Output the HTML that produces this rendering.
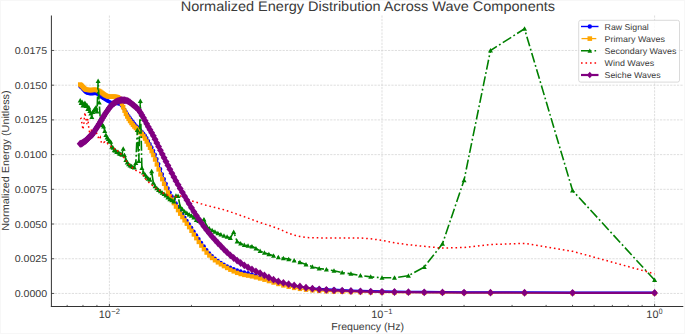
<!DOCTYPE html>
<html><head><meta charset="utf-8"><style>html,body{margin:0;padding:0;background:#fff;}svg{display:block;text-rendering:geometricPrecision;}</style></head>
<body><svg width="685" height="334" viewBox="0 0 685 334"><rect width="685" height="334" fill="#fff"/><rect x="0.5" y="0.5" width="684" height="333" fill="none" stroke="#f7f7f7" stroke-width="1"/><g stroke="#d0d0d0" stroke-width="0.7" stroke-dasharray="2.2,1.2"><line x1="51.4" x2="683.3" y1="293.45" y2="293.45"/><line x1="51.4" x2="683.3" y1="258.74" y2="258.74"/><line x1="51.4" x2="683.3" y1="224.03" y2="224.03"/><line x1="51.4" x2="683.3" y1="189.32" y2="189.32"/><line x1="51.4" x2="683.3" y1="154.61" y2="154.61"/><line x1="51.4" x2="683.3" y1="119.90" y2="119.90"/><line x1="51.4" x2="683.3" y1="85.19" y2="85.19"/><line x1="51.4" x2="683.3" y1="50.48" y2="50.48"/><line x1="109.40" x2="109.40" y1="15.5" y2="306.5"/><line x1="382.00" x2="382.00" y1="15.5" y2="306.5"/><line x1="654.60" x2="654.60" y1="15.5" y2="306.5"/></g><defs><clipPath id="ax"><rect x="51.4" y="15.5" width="631.9" height="291.0"/></clipPath></defs><g clip-path="url(#ax)"><path d="M80.17,86.59 L81.10,87.14 L82.04,87.94 L82.98,89.13 L83.93,90.26 L84.89,91.29 L85.86,92.20 L86.83,92.78 L87.82,93.08 L88.81,93.33 L89.80,93.51 L90.81,93.60 L91.83,93.58 L92.85,93.49 L93.89,93.38 L94.93,93.31 L95.98,93.37 L97.04,93.70 L98.12,94.15 L99.20,94.98 L100.29,96.02 L101.39,96.94 L102.50,97.69 L103.62,98.41 L104.76,99.10 L105.90,99.81 L107.06,100.52 L108.22,101.18 L109.40,101.86 L110.59,102.42 L111.79,102.71 L113.01,102.87 L114.23,102.98 L115.47,103.09 L116.73,103.25 L117.99,103.50 L119.27,103.84 L120.57,104.39 L121.87,105.77 L123.20,107.66 L124.53,109.58 L125.89,111.72 L127.26,113.89 L128.64,115.91 L130.04,117.88 L131.46,119.83 L132.89,121.73 L134.35,123.59 L135.82,125.38 L137.31,127.02 L138.82,128.55 L140.34,130.06 L141.89,131.65 L143.46,133.42 L145.05,135.48 L146.66,137.99 L148.29,140.86 L149.95,143.95 L151.63,147.16 L153.33,150.61 L155.06,154.43 L156.81,158.89 L158.59,163.87 L160.40,168.92 L162.24,174.03 L164.10,178.89 L165.99,183.57 L167.92,188.04 L169.88,192.33 L171.87,196.26 L173.89,199.82 L175.95,203.24 L178.04,206.77 L180.18,210.39 L182.35,213.96 L184.56,217.40 L186.82,220.74 L189.12,224.12 L191.46,227.70 L193.85,231.41 L196.29,235.14 L198.79,238.91 L201.33,242.67 L203.93,246.27 L206.59,249.89 L209.32,253.26 L212.10,256.01 L214.96,258.43 L217.88,260.64 L220.88,262.65 L223.95,264.45 L227.11,266.05 L230.35,267.51 L233.69,268.86 L237.12,270.08 L240.65,271.19 L244.30,272.10 L248.05,272.98 L251.94,274.10 L255.95,275.49 L260.10,277.04 L264.41,278.79 L268.88,280.60 L273.52,282.16 L278.35,283.58 L283.39,284.80 L288.66,285.87 L294.16,286.79 L299.94,287.50 L306.01,287.87 L312.41,288.15 L319.18,288.46 L326.36,288.82 L334.00,289.20 L342.17,289.64 L350.94,290.03 L360.42,290.34 L370.72,290.63 L382.00,290.90 L394.47,291.13 L408.42,291.29 L424.23,291.45 L442.48,291.61 L464.06,291.76 L490.48,291.87 L524.54,291.95 L572.54,292.04 L654.60,292.10" fill="none" stroke="#0000ff" stroke-width="1.2"/><g fill="#0000ff"><circle cx="654.60" cy="292.10" r="1.90"/><circle cx="572.54" cy="292.04" r="1.90"/><circle cx="524.54" cy="291.95" r="1.90"/><circle cx="490.48" cy="291.87" r="1.90"/><circle cx="464.06" cy="291.76" r="1.90"/><circle cx="442.48" cy="291.61" r="1.90"/><circle cx="424.23" cy="291.45" r="1.90"/><circle cx="408.42" cy="291.29" r="1.90"/><circle cx="394.47" cy="291.13" r="1.90"/><circle cx="382.00" cy="290.90" r="1.90"/><circle cx="370.72" cy="290.63" r="1.90"/><circle cx="360.42" cy="290.34" r="1.90"/><circle cx="350.94" cy="290.03" r="1.90"/><circle cx="342.17" cy="289.64" r="1.90"/><circle cx="334.00" cy="289.20" r="1.90"/><circle cx="326.36" cy="288.82" r="1.90"/><circle cx="319.18" cy="288.46" r="1.90"/><circle cx="312.41" cy="288.15" r="1.90"/><circle cx="306.01" cy="287.87" r="1.90"/><circle cx="299.94" cy="287.50" r="1.90"/><circle cx="294.16" cy="286.79" r="1.90"/><circle cx="288.66" cy="285.87" r="1.90"/><circle cx="283.39" cy="284.80" r="1.90"/><circle cx="278.35" cy="283.58" r="1.90"/><circle cx="273.52" cy="282.16" r="1.90"/><circle cx="268.88" cy="280.60" r="1.90"/><circle cx="264.41" cy="278.79" r="1.90"/><circle cx="260.10" cy="277.04" r="1.90"/><circle cx="255.95" cy="275.49" r="1.90"/><circle cx="251.94" cy="274.10" r="1.90"/><circle cx="248.05" cy="272.98" r="1.90"/><circle cx="244.30" cy="272.10" r="1.90"/><circle cx="240.65" cy="271.19" r="1.90"/><circle cx="237.12" cy="270.08" r="1.90"/><circle cx="233.69" cy="268.86" r="1.90"/><circle cx="230.35" cy="267.51" r="1.90"/><circle cx="227.11" cy="266.05" r="1.90"/><circle cx="223.95" cy="264.45" r="1.90"/><circle cx="220.88" cy="262.65" r="1.90"/><circle cx="217.88" cy="260.64" r="1.90"/><circle cx="214.96" cy="258.43" r="1.90"/><circle cx="212.10" cy="256.01" r="1.90"/><circle cx="209.32" cy="253.26" r="1.90"/><circle cx="206.59" cy="249.89" r="1.90"/><circle cx="203.93" cy="246.27" r="1.90"/><circle cx="201.33" cy="242.67" r="1.90"/><circle cx="198.79" cy="238.91" r="1.90"/><circle cx="196.29" cy="235.14" r="1.90"/><circle cx="193.85" cy="231.41" r="1.90"/><circle cx="191.46" cy="227.70" r="1.90"/><circle cx="189.12" cy="224.12" r="1.90"/><circle cx="186.82" cy="220.74" r="1.90"/><circle cx="184.56" cy="217.40" r="1.90"/><circle cx="182.35" cy="213.96" r="1.90"/><circle cx="180.18" cy="210.39" r="1.90"/><circle cx="178.04" cy="206.77" r="1.90"/><circle cx="175.95" cy="203.24" r="1.90"/><circle cx="173.89" cy="199.82" r="1.90"/><circle cx="171.87" cy="196.26" r="1.90"/><circle cx="169.88" cy="192.33" r="1.90"/><circle cx="167.92" cy="188.04" r="1.90"/><circle cx="165.99" cy="183.57" r="1.90"/><circle cx="164.10" cy="178.89" r="1.90"/><circle cx="162.24" cy="174.03" r="1.90"/><circle cx="160.40" cy="168.92" r="1.90"/><circle cx="158.59" cy="163.87" r="1.90"/><circle cx="156.81" cy="158.89" r="1.90"/><circle cx="155.06" cy="154.43" r="1.90"/><circle cx="153.33" cy="150.61" r="1.90"/><circle cx="151.63" cy="147.16" r="1.90"/><circle cx="149.95" cy="143.95" r="1.90"/><circle cx="148.29" cy="140.86" r="1.90"/><circle cx="146.66" cy="137.99" r="1.90"/><circle cx="145.05" cy="135.48" r="1.90"/><circle cx="143.46" cy="133.42" r="1.90"/><circle cx="141.89" cy="131.65" r="1.90"/><circle cx="140.34" cy="130.06" r="1.90"/><circle cx="138.82" cy="128.55" r="1.90"/><circle cx="137.31" cy="127.02" r="1.90"/><circle cx="135.82" cy="125.38" r="1.90"/><circle cx="134.35" cy="123.59" r="1.90"/><circle cx="132.89" cy="121.73" r="1.90"/><circle cx="131.46" cy="119.83" r="1.90"/><circle cx="130.04" cy="117.88" r="1.90"/><circle cx="128.64" cy="115.91" r="1.90"/><circle cx="127.26" cy="113.89" r="1.90"/><circle cx="125.89" cy="111.72" r="1.90"/><circle cx="124.53" cy="109.58" r="1.90"/><circle cx="123.20" cy="107.66" r="1.90"/><circle cx="121.87" cy="105.77" r="1.90"/><circle cx="120.57" cy="104.39" r="1.90"/><circle cx="119.27" cy="103.84" r="1.90"/><circle cx="117.99" cy="103.50" r="1.90"/><circle cx="116.73" cy="103.25" r="1.90"/><circle cx="115.47" cy="103.09" r="1.90"/><circle cx="114.23" cy="102.98" r="1.90"/><circle cx="113.01" cy="102.87" r="1.90"/><circle cx="111.79" cy="102.71" r="1.90"/><circle cx="110.59" cy="102.42" r="1.90"/><circle cx="109.40" cy="101.86" r="1.90"/><circle cx="108.22" cy="101.18" r="1.90"/><circle cx="107.06" cy="100.52" r="1.90"/><circle cx="105.90" cy="99.81" r="1.90"/><circle cx="104.76" cy="99.10" r="1.90"/><circle cx="103.62" cy="98.41" r="1.90"/><circle cx="102.50" cy="97.69" r="1.90"/><circle cx="101.39" cy="96.94" r="1.90"/><circle cx="100.29" cy="96.02" r="1.90"/><circle cx="99.20" cy="94.98" r="1.90"/><circle cx="98.12" cy="94.15" r="1.90"/><circle cx="97.04" cy="93.70" r="1.90"/><circle cx="95.98" cy="93.37" r="1.90"/><circle cx="94.93" cy="93.31" r="1.90"/><circle cx="93.89" cy="93.38" r="1.90"/><circle cx="92.85" cy="93.49" r="1.90"/><circle cx="91.83" cy="93.58" r="1.90"/><circle cx="90.81" cy="93.60" r="1.90"/><circle cx="89.80" cy="93.51" r="1.90"/><circle cx="88.81" cy="93.33" r="1.90"/><circle cx="87.82" cy="93.08" r="1.90"/><circle cx="86.83" cy="92.78" r="1.90"/><circle cx="85.86" cy="92.20" r="1.90"/><circle cx="84.89" cy="91.29" r="1.90"/><circle cx="83.93" cy="90.26" r="1.90"/><circle cx="82.98" cy="89.13" r="1.90"/><circle cx="82.04" cy="87.94" r="1.90"/><circle cx="81.10" cy="87.14" r="1.90"/><circle cx="80.17" cy="86.59" r="1.90"/></g><path d="M80.17,84.48 L81.10,85.17 L82.04,86.03 L82.98,87.08 L83.93,88.01 L84.89,88.89 L85.86,89.53 L86.83,89.75 L87.82,89.91 L88.81,90.03 L89.80,90.09 L90.81,90.09 L91.83,90.03 L92.85,89.95 L93.89,89.86 L94.93,89.80 L95.98,89.86 L97.04,90.14 L98.12,90.56 L99.20,91.03 L100.29,91.70 L101.39,92.48 L102.50,93.26 L103.62,94.13 L104.76,94.95 L105.90,95.53 L107.06,96.06 L108.22,96.49 L109.40,96.69 L110.59,96.69 L111.79,96.65 L113.01,96.61 L114.23,96.61 L115.47,96.72 L116.73,96.95 L117.99,97.30 L119.27,98.54 L120.57,100.79 L121.87,103.98 L123.20,107.20 L124.53,110.69 L125.89,113.95 L127.26,116.57 L128.64,118.91 L130.04,121.05 L131.46,123.02 L132.89,124.87 L134.35,126.55 L135.82,128.04 L137.31,129.42 L138.82,130.79 L140.34,132.27 L141.89,133.98 L143.46,136.06 L145.05,138.61 L146.66,141.52 L148.29,144.60 L149.95,147.79 L151.63,151.24 L153.33,155.07 L155.06,159.57 L156.81,164.48 L158.59,169.46 L160.40,174.47 L162.24,179.23 L164.10,183.82 L165.99,188.21 L167.92,192.42 L169.88,196.28 L171.87,199.78 L173.89,203.14 L175.95,206.61 L178.04,210.16 L180.18,213.69 L182.35,217.08 L184.56,220.36 L186.82,223.68 L189.12,227.16 L191.46,230.79 L193.85,234.47 L196.29,238.20 L198.79,241.97 L201.33,245.60 L203.93,249.18 L206.59,252.60 L209.32,255.49 L212.10,257.99 L214.96,260.28 L217.88,262.38 L220.88,264.32 L223.95,266.15 L227.11,267.97 L230.35,269.73 L233.69,271.37 L237.12,272.84 L240.65,274.04 L244.30,274.93 L248.05,275.62 L251.94,276.39 L255.95,277.37 L260.10,278.50 L264.41,279.72 L268.88,281.09 L273.52,282.55 L278.35,283.99 L283.39,285.44 L288.66,286.75 L294.16,287.91 L299.94,288.89 L306.01,289.67 L312.41,290.35 L319.18,290.88 L326.36,291.29 L334.00,291.60 L342.17,291.84 L350.94,292.02 L360.42,292.17 L370.72,292.31 L382.00,292.45 L394.47,292.56 L408.42,292.65 L424.23,292.74 L442.48,292.82 L464.06,292.90 L490.48,292.98 L524.54,293.05 L572.54,293.13 L654.60,293.20" fill="none" stroke="#ffa500" stroke-width="1.2"/><g fill="#ffa500"><rect x="652.40" y="291.00" width="4.40" height="4.40"/><rect x="570.34" y="290.93" width="4.40" height="4.40"/><rect x="522.34" y="290.85" width="4.40" height="4.40"/><rect x="488.28" y="290.78" width="4.40" height="4.40"/><rect x="461.86" y="290.70" width="4.40" height="4.40"/><rect x="440.28" y="290.62" width="4.40" height="4.40"/><rect x="422.03" y="290.54" width="4.40" height="4.40"/><rect x="406.22" y="290.45" width="4.40" height="4.40"/><rect x="392.27" y="290.36" width="4.40" height="4.40"/><rect x="379.80" y="290.25" width="4.40" height="4.40"/><rect x="368.52" y="290.11" width="4.40" height="4.40"/><rect x="358.22" y="289.97" width="4.40" height="4.40"/><rect x="348.74" y="289.82" width="4.40" height="4.40"/><rect x="339.97" y="289.64" width="4.40" height="4.40"/><rect x="331.80" y="289.40" width="4.40" height="4.40"/><rect x="324.16" y="289.09" width="4.40" height="4.40"/><rect x="316.98" y="288.68" width="4.40" height="4.40"/><rect x="310.21" y="288.15" width="4.40" height="4.40"/><rect x="303.81" y="287.47" width="4.40" height="4.40"/><rect x="297.74" y="286.69" width="4.40" height="4.40"/><rect x="291.96" y="285.71" width="4.40" height="4.40"/><rect x="286.46" y="284.55" width="4.40" height="4.40"/><rect x="281.19" y="283.24" width="4.40" height="4.40"/><rect x="276.15" y="281.79" width="4.40" height="4.40"/><rect x="271.32" y="280.35" width="4.40" height="4.40"/><rect x="266.68" y="278.89" width="4.40" height="4.40"/><rect x="262.21" y="277.52" width="4.40" height="4.40"/><rect x="257.90" y="276.30" width="4.40" height="4.40"/><rect x="253.75" y="275.17" width="4.40" height="4.40"/><rect x="249.74" y="274.19" width="4.40" height="4.40"/><rect x="245.85" y="273.42" width="4.40" height="4.40"/><rect x="242.10" y="272.73" width="4.40" height="4.40"/><rect x="238.45" y="271.84" width="4.40" height="4.40"/><rect x="234.92" y="270.64" width="4.40" height="4.40"/><rect x="231.49" y="269.17" width="4.40" height="4.40"/><rect x="228.15" y="267.53" width="4.40" height="4.40"/><rect x="224.91" y="265.77" width="4.40" height="4.40"/><rect x="221.75" y="263.95" width="4.40" height="4.40"/><rect x="218.68" y="262.12" width="4.40" height="4.40"/><rect x="215.68" y="260.18" width="4.40" height="4.40"/><rect x="212.76" y="258.08" width="4.40" height="4.40"/><rect x="209.90" y="255.79" width="4.40" height="4.40"/><rect x="207.12" y="253.29" width="4.40" height="4.40"/><rect x="204.39" y="250.40" width="4.40" height="4.40"/><rect x="201.73" y="246.98" width="4.40" height="4.40"/><rect x="199.13" y="243.40" width="4.40" height="4.40"/><rect x="196.59" y="239.77" width="4.40" height="4.40"/><rect x="194.09" y="236.00" width="4.40" height="4.40"/><rect x="191.65" y="232.27" width="4.40" height="4.40"/><rect x="189.26" y="228.59" width="4.40" height="4.40"/><rect x="186.92" y="224.96" width="4.40" height="4.40"/><rect x="184.62" y="221.48" width="4.40" height="4.40"/><rect x="182.36" y="218.16" width="4.40" height="4.40"/><rect x="180.15" y="214.88" width="4.40" height="4.40"/><rect x="177.98" y="211.49" width="4.40" height="4.40"/><rect x="175.84" y="207.96" width="4.40" height="4.40"/><rect x="173.75" y="204.41" width="4.40" height="4.40"/><rect x="171.69" y="200.94" width="4.40" height="4.40"/><rect x="169.67" y="197.58" width="4.40" height="4.40"/><rect x="167.68" y="194.08" width="4.40" height="4.40"/><rect x="165.72" y="190.22" width="4.40" height="4.40"/><rect x="163.79" y="186.01" width="4.40" height="4.40"/><rect x="161.90" y="181.62" width="4.40" height="4.40"/><rect x="160.04" y="177.03" width="4.40" height="4.40"/><rect x="158.20" y="172.27" width="4.40" height="4.40"/><rect x="156.39" y="167.26" width="4.40" height="4.40"/><rect x="154.61" y="162.28" width="4.40" height="4.40"/><rect x="152.86" y="157.37" width="4.40" height="4.40"/><rect x="151.13" y="152.87" width="4.40" height="4.40"/><rect x="149.43" y="149.04" width="4.40" height="4.40"/><rect x="147.75" y="145.59" width="4.40" height="4.40"/><rect x="146.09" y="142.40" width="4.40" height="4.40"/><rect x="144.46" y="139.32" width="4.40" height="4.40"/><rect x="142.85" y="136.41" width="4.40" height="4.40"/><rect x="141.26" y="133.86" width="4.40" height="4.40"/><rect x="139.69" y="131.78" width="4.40" height="4.40"/><rect x="138.14" y="130.07" width="4.40" height="4.40"/><rect x="136.62" y="128.59" width="4.40" height="4.40"/><rect x="135.11" y="127.22" width="4.40" height="4.40"/><rect x="133.62" y="125.84" width="4.40" height="4.40"/><rect x="132.15" y="124.35" width="4.40" height="4.40"/><rect x="130.69" y="122.67" width="4.40" height="4.40"/><rect x="129.26" y="120.82" width="4.40" height="4.40"/><rect x="127.84" y="118.85" width="4.40" height="4.40"/><rect x="126.44" y="116.71" width="4.40" height="4.40"/><rect x="125.06" y="114.37" width="4.40" height="4.40"/><rect x="123.69" y="111.75" width="4.40" height="4.40"/><rect x="122.33" y="108.49" width="4.40" height="4.40"/><rect x="121.00" y="105.00" width="4.40" height="4.40"/><rect x="119.67" y="101.78" width="4.40" height="4.40"/><rect x="118.37" y="98.59" width="4.40" height="4.40"/><rect x="117.07" y="96.34" width="4.40" height="4.40"/><rect x="115.79" y="95.10" width="4.40" height="4.40"/><rect x="114.53" y="94.75" width="4.40" height="4.40"/><rect x="113.27" y="94.52" width="4.40" height="4.40"/><rect x="112.03" y="94.41" width="4.40" height="4.40"/><rect x="110.81" y="94.41" width="4.40" height="4.40"/><rect x="109.59" y="94.45" width="4.40" height="4.40"/><rect x="108.39" y="94.49" width="4.40" height="4.40"/><rect x="107.20" y="94.49" width="4.40" height="4.40"/><rect x="106.02" y="94.29" width="4.40" height="4.40"/><rect x="104.86" y="93.86" width="4.40" height="4.40"/><rect x="103.70" y="93.33" width="4.40" height="4.40"/><rect x="102.56" y="92.75" width="4.40" height="4.40"/><rect x="101.42" y="91.93" width="4.40" height="4.40"/><rect x="100.30" y="91.06" width="4.40" height="4.40"/><rect x="99.19" y="90.28" width="4.40" height="4.40"/><rect x="98.09" y="89.50" width="4.40" height="4.40"/><rect x="97.00" y="88.83" width="4.40" height="4.40"/><rect x="95.92" y="88.36" width="4.40" height="4.40"/><rect x="94.84" y="87.94" width="4.40" height="4.40"/><rect x="93.78" y="87.66" width="4.40" height="4.40"/><rect x="92.73" y="87.60" width="4.40" height="4.40"/><rect x="91.69" y="87.66" width="4.40" height="4.40"/><rect x="90.65" y="87.75" width="4.40" height="4.40"/><rect x="89.63" y="87.83" width="4.40" height="4.40"/><rect x="88.61" y="87.89" width="4.40" height="4.40"/><rect x="87.60" y="87.89" width="4.40" height="4.40"/><rect x="86.61" y="87.83" width="4.40" height="4.40"/><rect x="85.62" y="87.71" width="4.40" height="4.40"/><rect x="84.63" y="87.55" width="4.40" height="4.40"/><rect x="83.66" y="87.33" width="4.40" height="4.40"/><rect x="82.69" y="86.69" width="4.40" height="4.40"/><rect x="81.73" y="85.81" width="4.40" height="4.40"/><rect x="80.78" y="84.88" width="4.40" height="4.40"/><rect x="79.84" y="83.83" width="4.40" height="4.40"/><rect x="78.90" y="82.97" width="4.40" height="4.40"/><rect x="77.97" y="82.28" width="4.40" height="4.40"/></g><path d="M80.17,100.50 L81.10,103.00 L82.04,102.00 L82.98,105.50 L83.93,104.00 L84.89,103.00 L85.86,106.00 L86.83,105.00 L87.82,109.00 L88.81,107.50 L89.80,111.00 L90.81,113.50 L91.83,117.00 L92.85,112.00 L93.89,110.50 L94.93,109.00 L95.98,107.50 L97.04,111.50 L98.12,81.00 L99.20,102.50 L100.29,119.00 L101.39,123.00 L102.50,125.00 L103.62,126.50 L104.76,131.00 L105.90,135.00 L107.06,137.50 L108.22,139.00 L109.40,141.00 L110.59,141.64 L111.79,146.72 L113.01,147.74 L114.23,150.21 L115.47,150.45 L116.73,152.00 L117.99,151.91 L119.27,153.41 L120.57,153.90 L121.87,154.80 L123.20,148.80 L124.53,155.21 L125.89,160.08 L127.26,162.41 L128.64,164.28 L130.04,165.40 L131.46,166.31 L132.89,166.94 L134.35,167.53 L135.82,163.00 L137.31,130.00 L138.82,161.00 L140.34,101.00 L141.89,168.00 L143.46,172.50 L145.05,174.65 L146.66,176.84 L148.29,178.65 L149.95,179.70 L151.63,171.20 L153.33,182.84 L155.06,186.34 L156.81,188.33 L158.59,189.91 L160.40,191.33 L162.24,192.65 L164.10,194.00 L165.99,195.48 L167.92,197.51 L169.88,199.26 L171.87,200.37 L173.89,201.39 L175.95,195.80 L178.04,196.00 L180.18,206.66 L182.35,209.18 L184.56,211.47 L186.82,213.08 L189.12,214.39 L191.46,215.78 L193.85,217.49 L196.29,220.07 L198.79,221.00 L201.33,221.41 L203.93,219.40 L206.59,225.91 L209.32,228.55 L212.10,230.16 L214.96,231.71 L217.88,233.19 L220.88,234.54 L223.95,235.70 L227.11,236.81 L230.35,238.10 L233.69,231.90 L237.12,241.51 L240.65,243.50 L244.30,245.10 L248.05,245.74 L251.94,246.38 L255.95,248.40 L260.10,251.07 L264.41,252.75 L268.88,254.14 L273.52,255.77 L278.35,257.35 L283.39,258.25 L288.66,259.14 L294.16,260.57 L299.94,262.33 L306.01,264.40 L312.41,266.71 L319.18,268.51 L326.36,269.45 L334.00,270.72 L342.17,272.58 L350.94,273.84 L360.42,275.53 L370.72,276.87 L382.00,277.80 L394.47,277.80 L408.42,275.70 L424.23,267.06 L442.48,243.74 L464.06,180.14 L490.48,50.53 L524.54,28.80 L572.54,190.47 L654.60,280.00" fill="none" stroke="#008000" stroke-width="1.6" stroke-dasharray="10,2.6,1.8,2.6"/><g fill="#008000"><path d="M654.60,277.50 L657.10,282.00 L652.10,282.00 Z"/><path d="M572.54,187.97 L575.04,192.47 L570.04,192.47 Z"/><path d="M524.54,26.30 L527.04,30.80 L522.04,30.80 Z"/><path d="M490.48,48.03 L492.98,52.53 L487.98,52.53 Z"/><path d="M464.06,177.64 L466.56,182.14 L461.56,182.14 Z"/><path d="M442.48,241.24 L444.98,245.74 L439.98,245.74 Z"/><path d="M424.23,264.56 L426.73,269.06 L421.73,269.06 Z"/><path d="M408.42,273.20 L410.92,277.70 L405.92,277.70 Z"/><path d="M394.47,275.30 L396.97,279.80 L391.97,279.80 Z"/><path d="M382.00,275.30 L384.50,279.80 L379.50,279.80 Z"/><path d="M370.72,274.37 L373.22,278.87 L368.22,278.87 Z"/><path d="M360.42,273.03 L362.92,277.53 L357.92,277.53 Z"/><path d="M350.94,271.34 L353.44,275.84 L348.44,275.84 Z"/><path d="M342.17,270.08 L344.67,274.58 L339.67,274.58 Z"/><path d="M334.00,268.22 L336.50,272.72 L331.50,272.72 Z"/><path d="M326.36,266.95 L328.86,271.45 L323.86,271.45 Z"/><path d="M319.18,266.01 L321.68,270.51 L316.68,270.51 Z"/><path d="M312.41,264.21 L314.91,268.71 L309.91,268.71 Z"/><path d="M306.01,261.90 L308.51,266.40 L303.51,266.40 Z"/><path d="M299.94,259.83 L302.44,264.33 L297.44,264.33 Z"/><path d="M294.16,258.07 L296.66,262.57 L291.66,262.57 Z"/><path d="M288.66,256.64 L291.16,261.14 L286.16,261.14 Z"/><path d="M283.39,255.75 L285.89,260.25 L280.89,260.25 Z"/><path d="M278.35,254.85 L280.85,259.35 L275.85,259.35 Z"/><path d="M273.52,253.27 L276.02,257.77 L271.02,257.77 Z"/><path d="M268.88,251.64 L271.38,256.14 L266.38,256.14 Z"/><path d="M264.41,250.25 L266.91,254.75 L261.91,254.75 Z"/><path d="M260.10,248.57 L262.60,253.07 L257.60,253.07 Z"/><path d="M255.95,245.90 L258.45,250.40 L253.45,250.40 Z"/><path d="M251.94,243.88 L254.44,248.38 L249.44,248.38 Z"/><path d="M248.05,243.24 L250.55,247.74 L245.55,247.74 Z"/><path d="M244.30,242.60 L246.80,247.10 L241.80,247.10 Z"/><path d="M240.65,241.00 L243.15,245.50 L238.15,245.50 Z"/><path d="M237.12,239.01 L239.62,243.51 L234.62,243.51 Z"/><path d="M233.69,229.40 L236.19,233.90 L231.19,233.90 Z"/><path d="M230.35,235.60 L232.85,240.10 L227.85,240.10 Z"/><path d="M227.11,234.31 L229.61,238.81 L224.61,238.81 Z"/><path d="M223.95,233.20 L226.45,237.70 L221.45,237.70 Z"/><path d="M220.88,232.04 L223.38,236.54 L218.38,236.54 Z"/><path d="M217.88,230.69 L220.38,235.19 L215.38,235.19 Z"/><path d="M214.96,229.21 L217.46,233.71 L212.46,233.71 Z"/><path d="M212.10,227.66 L214.60,232.16 L209.60,232.16 Z"/><path d="M209.32,226.05 L211.82,230.55 L206.82,230.55 Z"/><path d="M206.59,223.41 L209.09,227.91 L204.09,227.91 Z"/><path d="M203.93,216.90 L206.43,221.40 L201.43,221.40 Z"/><path d="M201.33,218.91 L203.83,223.41 L198.83,223.41 Z"/><path d="M198.79,218.50 L201.29,223.00 L196.29,223.00 Z"/><path d="M196.29,217.57 L198.79,222.07 L193.79,222.07 Z"/><path d="M193.85,214.99 L196.35,219.49 L191.35,219.49 Z"/><path d="M191.46,213.28 L193.96,217.78 L188.96,217.78 Z"/><path d="M189.12,211.89 L191.62,216.39 L186.62,216.39 Z"/><path d="M186.82,210.58 L189.32,215.08 L184.32,215.08 Z"/><path d="M184.56,208.97 L187.06,213.47 L182.06,213.47 Z"/><path d="M182.35,206.68 L184.85,211.18 L179.85,211.18 Z"/><path d="M180.18,204.16 L182.68,208.66 L177.68,208.66 Z"/><path d="M178.04,193.50 L180.54,198.00 L175.54,198.00 Z"/><path d="M175.95,193.30 L178.45,197.80 L173.45,197.80 Z"/><path d="M173.89,198.89 L176.39,203.39 L171.39,203.39 Z"/><path d="M171.87,197.87 L174.37,202.37 L169.37,202.37 Z"/><path d="M169.88,196.76 L172.38,201.26 L167.38,201.26 Z"/><path d="M167.92,195.01 L170.42,199.51 L165.42,199.51 Z"/><path d="M165.99,192.98 L168.49,197.48 L163.49,197.48 Z"/><path d="M164.10,191.50 L166.60,196.00 L161.60,196.00 Z"/><path d="M162.24,190.15 L164.74,194.65 L159.74,194.65 Z"/><path d="M160.40,188.83 L162.90,193.33 L157.90,193.33 Z"/><path d="M158.59,187.41 L161.09,191.91 L156.09,191.91 Z"/><path d="M156.81,185.83 L159.31,190.33 L154.31,190.33 Z"/><path d="M155.06,183.84 L157.56,188.34 L152.56,188.34 Z"/><path d="M153.33,180.34 L155.83,184.84 L150.83,184.84 Z"/><path d="M151.63,168.70 L154.13,173.20 L149.13,173.20 Z"/><path d="M149.95,177.20 L152.45,181.70 L147.45,181.70 Z"/><path d="M148.29,176.15 L150.79,180.65 L145.79,180.65 Z"/><path d="M146.66,174.34 L149.16,178.84 L144.16,178.84 Z"/><path d="M145.05,172.15 L147.55,176.65 L142.55,176.65 Z"/><path d="M143.46,170.00 L145.96,174.50 L140.96,174.50 Z"/><path d="M141.89,165.50 L144.39,170.00 L139.39,170.00 Z"/><path d="M140.34,98.50 L142.84,103.00 L137.84,103.00 Z"/><path d="M138.82,158.50 L141.32,163.00 L136.32,163.00 Z"/><path d="M137.31,127.50 L139.81,132.00 L134.81,132.00 Z"/><path d="M135.82,160.50 L138.32,165.00 L133.32,165.00 Z"/><path d="M134.35,165.03 L136.85,169.53 L131.85,169.53 Z"/><path d="M132.89,164.44 L135.39,168.94 L130.39,168.94 Z"/><path d="M131.46,163.81 L133.96,168.31 L128.96,168.31 Z"/><path d="M130.04,162.90 L132.54,167.40 L127.54,167.40 Z"/><path d="M128.64,161.78 L131.14,166.28 L126.14,166.28 Z"/><path d="M127.26,159.91 L129.76,164.41 L124.76,164.41 Z"/><path d="M125.89,157.58 L128.39,162.08 L123.39,162.08 Z"/><path d="M124.53,152.71 L127.03,157.21 L122.03,157.21 Z"/><path d="M123.20,146.30 L125.70,150.80 L120.70,150.80 Z"/><path d="M121.87,152.30 L124.37,156.80 L119.37,156.80 Z"/><path d="M120.57,151.40 L123.07,155.90 L118.07,155.90 Z"/><path d="M119.27,150.91 L121.77,155.41 L116.77,155.41 Z"/><path d="M117.99,149.41 L120.49,153.91 L115.49,153.91 Z"/><path d="M116.73,149.50 L119.23,154.00 L114.23,154.00 Z"/><path d="M115.47,147.95 L117.97,152.45 L112.97,152.45 Z"/><path d="M114.23,147.71 L116.73,152.21 L111.73,152.21 Z"/><path d="M113.01,145.24 L115.51,149.74 L110.51,149.74 Z"/><path d="M111.79,144.22 L114.29,148.72 L109.29,148.72 Z"/><path d="M110.59,139.14 L113.09,143.64 L108.09,143.64 Z"/><path d="M109.40,138.50 L111.90,143.00 L106.90,143.00 Z"/><path d="M108.22,136.50 L110.72,141.00 L105.72,141.00 Z"/><path d="M107.06,135.00 L109.56,139.50 L104.56,139.50 Z"/><path d="M105.90,132.50 L108.40,137.00 L103.40,137.00 Z"/><path d="M104.76,128.50 L107.26,133.00 L102.26,133.00 Z"/><path d="M103.62,124.00 L106.12,128.50 L101.12,128.50 Z"/><path d="M102.50,122.50 L105.00,127.00 L100.00,127.00 Z"/><path d="M101.39,120.50 L103.89,125.00 L98.89,125.00 Z"/><path d="M100.29,116.50 L102.79,121.00 L97.79,121.00 Z"/><path d="M99.20,100.00 L101.70,104.50 L96.70,104.50 Z"/><path d="M98.12,78.50 L100.62,83.00 L95.62,83.00 Z"/><path d="M97.04,109.00 L99.54,113.50 L94.54,113.50 Z"/><path d="M95.98,105.00 L98.48,109.50 L93.48,109.50 Z"/><path d="M94.93,106.50 L97.43,111.00 L92.43,111.00 Z"/><path d="M93.89,108.00 L96.39,112.50 L91.39,112.50 Z"/><path d="M92.85,109.50 L95.35,114.00 L90.35,114.00 Z"/><path d="M91.83,114.50 L94.33,119.00 L89.33,119.00 Z"/><path d="M90.81,111.00 L93.31,115.50 L88.31,115.50 Z"/><path d="M89.80,108.50 L92.30,113.00 L87.30,113.00 Z"/><path d="M88.81,105.00 L91.31,109.50 L86.31,109.50 Z"/><path d="M87.82,106.50 L90.32,111.00 L85.32,111.00 Z"/><path d="M86.83,102.50 L89.33,107.00 L84.33,107.00 Z"/><path d="M85.86,103.50 L88.36,108.00 L83.36,108.00 Z"/><path d="M84.89,100.50 L87.39,105.00 L82.39,105.00 Z"/><path d="M83.93,101.50 L86.43,106.00 L81.43,106.00 Z"/><path d="M82.98,103.00 L85.48,107.50 L80.48,107.50 Z"/><path d="M82.04,99.50 L84.54,104.00 L79.54,104.00 Z"/><path d="M81.10,100.50 L83.60,105.00 L78.60,105.00 Z"/><path d="M80.17,98.00 L82.67,102.50 L77.67,102.50 Z"/></g><path d="M80.17,118.83 L81.10,118.39 L82.04,123.80 L82.98,129.51 L83.93,122.67 L84.89,112.42 L85.86,118.24 L86.83,124.09 L87.82,118.86 L88.81,128.40 L89.80,133.95 L90.81,129.03 L91.83,131.41 L92.85,131.68 L93.89,135.93 L94.93,132.09 L95.98,129.17 L97.04,136.04 L98.12,137.05 L99.20,139.43 L100.29,137.48 L101.39,142.69 L102.50,141.53 L103.62,142.41 L104.76,141.98 L105.90,143.79 L107.06,143.42 L108.22,144.04 L109.40,145.06 L110.59,145.52 L111.79,147.35 L113.01,147.68 L114.23,148.82 L115.47,148.32 L116.73,149.76 L117.99,151.28 L119.27,151.83 L120.57,153.43 L121.87,155.13 L123.20,156.52 L124.53,158.38 L125.89,160.36 L127.26,161.94 L128.64,163.73 L130.04,165.35 L131.46,166.78 L132.89,168.08 L134.35,169.25 L135.82,170.34 L137.31,171.32 L138.82,172.16 L140.34,172.73 L141.89,173.46 L143.46,175.55 L145.05,178.23 L146.66,180.14 L148.29,181.82 L149.95,183.35 L151.63,184.80 L153.33,186.16 L155.06,187.45 L156.81,188.69 L158.59,189.91 L160.40,191.18 L162.24,192.45 L164.10,193.63 L165.99,194.61 L167.92,195.32 L169.88,195.97 L171.87,196.48 L173.89,196.70 L175.95,196.57 L178.04,196.27 L180.18,196.03 L182.35,196.26 L184.56,197.44 L186.82,198.90 L189.12,199.93 L191.46,200.76 L193.85,201.52 L196.29,202.28 L198.79,203.06 L201.33,203.86 L203.93,204.64 L206.59,205.39 L209.32,206.11 L212.10,206.80 L214.96,207.49 L217.88,208.20 L220.88,208.96 L223.95,209.81 L227.11,210.78 L230.35,211.84 L233.69,212.99 L237.12,214.21 L240.65,215.46 L244.30,216.75 L248.05,218.12 L251.94,219.55 L255.95,221.02 L260.10,222.51 L264.41,223.96 L268.88,225.41 L273.52,226.96 L278.35,228.71 L283.39,230.93 L288.66,233.31 L294.16,235.17 L299.94,236.51 L306.01,237.50 L312.41,237.75 L319.18,237.89 L326.36,237.90 L334.00,237.90 L342.17,237.90 L350.94,237.90 L360.42,237.96 L370.72,238.79 L382.00,240.33 L394.47,242.83 L408.42,244.72 L424.23,246.36 L442.48,248.10 L464.06,247.50 L490.48,244.50 L524.54,243.40 L572.54,251.31 L654.60,273.80" fill="none" stroke="#ff0000" stroke-width="1.5" stroke-dasharray="1.6,2.9"/><path d="M80.17,143.75 L81.10,143.74 L82.04,143.27 L82.98,142.58 L83.93,141.97 L84.89,141.33 L85.86,140.60 L86.83,139.68 L87.82,138.56 L88.81,137.49 L89.80,136.65 L90.81,135.87 L91.83,134.99 L92.85,133.76 L93.89,132.12 L94.93,130.41 L95.98,128.83 L97.04,127.26 L98.12,125.62 L99.20,123.84 L100.29,122.00 L101.39,120.15 L102.50,118.27 L103.62,116.40 L104.76,114.61 L105.90,112.86 L107.06,111.15 L108.22,109.45 L109.40,107.77 L110.59,106.31 L111.79,105.08 L113.01,103.97 L114.23,103.01 L115.47,102.22 L116.73,101.53 L117.99,100.97 L119.27,100.55 L120.57,100.19 L121.87,100.00 L123.20,100.06 L124.53,100.23 L125.89,100.46 L127.26,100.83 L128.64,101.42 L130.04,102.44 L131.46,103.55 L132.89,104.69 L134.35,105.88 L135.82,107.05 L137.31,108.40 L138.82,110.20 L140.34,112.44 L141.89,114.91 L143.46,117.67 L145.05,120.71 L146.66,123.81 L148.29,126.78 L149.95,129.67 L151.63,132.64 L153.33,135.83 L155.06,139.31 L156.81,142.96 L158.59,146.62 L160.40,150.32 L162.24,154.06 L164.10,157.82 L165.99,161.61 L167.92,165.43 L169.88,169.31 L171.87,173.21 L173.89,177.06 L175.95,180.90 L178.04,184.72 L180.18,188.52 L182.35,192.32 L184.56,196.14 L186.82,200.00 L189.12,203.87 L191.46,207.74 L193.85,211.63 L196.29,215.45 L198.79,219.17 L201.33,222.83 L203.93,226.40 L206.59,229.91 L209.32,233.33 L212.10,236.64 L214.96,239.85 L217.88,242.99 L220.88,246.12 L223.95,249.29 L227.11,252.41 L230.35,255.29 L233.69,257.99 L237.12,260.57 L240.65,263.02 L244.30,265.29 L248.05,267.40 L251.94,269.40 L255.95,271.33 L260.10,273.26 L264.41,275.29 L268.88,277.50 L273.52,279.64 L278.35,281.38 L283.39,282.84 L288.66,284.16 L294.16,285.38 L299.94,286.49 L306.01,287.55 L312.41,288.54 L319.18,289.31 L326.36,289.86 L334.00,290.30 L342.17,290.68 L350.94,291.01 L360.42,291.34 L370.72,291.62 L382.00,291.82 L394.47,292.01 L408.42,292.20 L424.23,292.33 L442.48,292.46 L464.06,292.58 L490.48,292.68 L524.54,292.75 L572.54,292.84 L654.60,292.90" fill="none" stroke="#800080" stroke-width="2.2"/><g fill="#800080"><path d="M654.60,289.00 L658.03,292.90 L654.60,296.80 L651.17,292.90 Z"/><path d="M572.54,288.94 L575.97,292.84 L572.54,296.74 L569.11,292.84 Z"/><path d="M524.54,288.85 L527.97,292.75 L524.54,296.65 L521.10,292.75 Z"/><path d="M490.48,288.78 L493.91,292.68 L490.48,296.58 L487.05,292.68 Z"/><path d="M464.06,288.68 L467.49,292.58 L464.06,296.48 L460.63,292.58 Z"/><path d="M442.48,288.56 L445.91,292.46 L442.48,296.36 L439.04,292.46 Z"/><path d="M424.23,288.43 L427.66,292.33 L424.23,296.23 L420.79,292.33 Z"/><path d="M408.42,288.30 L411.85,292.20 L408.42,296.10 L404.99,292.20 Z"/><path d="M394.47,288.11 L397.91,292.01 L394.47,295.91 L391.04,292.01 Z"/><path d="M382.00,287.92 L385.43,291.82 L382.00,295.72 L378.57,291.82 Z"/><path d="M370.72,287.72 L374.15,291.62 L370.72,295.52 L367.28,291.62 Z"/><path d="M360.42,287.44 L363.85,291.34 L360.42,295.24 L356.98,291.34 Z"/><path d="M350.94,287.11 L354.37,291.01 L350.94,294.91 L347.51,291.01 Z"/><path d="M342.17,286.78 L345.60,290.68 L342.17,294.58 L338.73,290.68 Z"/><path d="M334.00,286.40 L337.43,290.30 L334.00,294.20 L330.57,290.30 Z"/><path d="M326.36,285.96 L329.79,289.86 L326.36,293.76 L322.92,289.86 Z"/><path d="M319.18,285.41 L322.61,289.31 L319.18,293.21 L315.75,289.31 Z"/><path d="M312.41,284.64 L315.84,288.54 L312.41,292.44 L308.98,288.54 Z"/><path d="M306.01,283.65 L309.44,287.55 L306.01,291.45 L302.58,287.55 Z"/><path d="M299.94,282.59 L303.37,286.49 L299.94,290.39 L296.51,286.49 Z"/><path d="M294.16,281.48 L297.60,285.38 L294.16,289.28 L290.73,285.38 Z"/><path d="M288.66,280.26 L292.09,284.16 L288.66,288.06 L285.22,284.16 Z"/><path d="M283.39,278.94 L286.82,282.84 L283.39,286.74 L279.96,282.84 Z"/><path d="M278.35,277.48 L281.79,281.38 L278.35,285.28 L274.92,281.38 Z"/><path d="M273.52,275.74 L276.95,279.64 L273.52,283.54 L270.09,279.64 Z"/><path d="M268.88,273.60 L272.31,277.50 L268.88,281.40 L265.45,277.50 Z"/><path d="M264.41,271.39 L267.84,275.29 L264.41,279.19 L260.98,275.29 Z"/><path d="M260.10,269.36 L263.54,273.26 L260.10,277.16 L256.67,273.26 Z"/><path d="M255.95,267.43 L259.38,271.33 L255.95,275.23 L252.52,271.33 Z"/><path d="M251.94,265.50 L255.37,269.40 L251.94,273.30 L248.50,269.40 Z"/><path d="M248.05,263.50 L251.49,267.40 L248.05,271.30 L244.62,267.40 Z"/><path d="M244.30,261.39 L247.73,265.29 L244.30,269.19 L240.86,265.29 Z"/><path d="M240.65,259.12 L244.09,263.02 L240.65,266.92 L237.22,263.02 Z"/><path d="M237.12,256.67 L240.55,260.57 L237.12,264.47 L233.69,260.57 Z"/><path d="M233.69,254.09 L237.12,257.99 L233.69,261.89 L230.26,257.99 Z"/><path d="M230.35,251.39 L233.78,255.29 L230.35,259.19 L226.92,255.29 Z"/><path d="M227.11,248.51 L230.54,252.41 L227.11,256.31 L223.68,252.41 Z"/><path d="M223.95,245.39 L227.38,249.29 L223.95,253.19 L220.52,249.29 Z"/><path d="M220.88,242.22 L224.31,246.12 L220.88,250.02 L217.44,246.12 Z"/><path d="M217.88,239.09 L221.31,242.99 L217.88,246.89 L214.45,242.99 Z"/><path d="M214.96,235.95 L218.39,239.85 L214.96,243.75 L211.52,239.85 Z"/><path d="M212.10,232.74 L215.53,236.64 L212.10,240.54 L208.67,236.64 Z"/><path d="M209.32,229.43 L212.75,233.33 L209.32,237.23 L205.88,233.33 Z"/><path d="M206.59,226.01 L210.03,229.91 L206.59,233.81 L203.16,229.91 Z"/><path d="M203.93,222.50 L207.37,226.40 L203.93,230.30 L200.50,226.40 Z"/><path d="M201.33,218.93 L204.76,222.83 L201.33,226.73 L197.90,222.83 Z"/><path d="M198.79,215.27 L202.22,219.17 L198.79,223.07 L195.35,219.17 Z"/><path d="M196.29,211.55 L199.73,215.45 L196.29,219.35 L192.86,215.45 Z"/><path d="M193.85,207.73 L197.28,211.63 L193.85,215.53 L190.42,211.63 Z"/><path d="M191.46,203.84 L194.89,207.74 L191.46,211.64 L188.03,207.74 Z"/><path d="M189.12,199.97 L192.55,203.87 L189.12,207.77 L185.68,203.87 Z"/><path d="M186.82,196.10 L190.25,200.00 L186.82,203.90 L183.39,200.00 Z"/><path d="M184.56,192.24 L187.99,196.14 L184.56,200.04 L181.13,196.14 Z"/><path d="M182.35,188.42 L185.78,192.32 L182.35,196.22 L178.92,192.32 Z"/><path d="M180.18,184.62 L183.61,188.52 L180.18,192.42 L176.75,188.52 Z"/><path d="M178.04,180.82 L181.48,184.72 L178.04,188.62 L174.61,184.72 Z"/><path d="M175.95,177.00 L179.38,180.90 L175.95,184.80 L172.52,180.90 Z"/><path d="M173.89,173.16 L177.32,177.06 L173.89,180.96 L170.46,177.06 Z"/><path d="M171.87,169.31 L175.30,173.21 L171.87,177.11 L168.43,173.21 Z"/><path d="M169.88,165.41 L173.31,169.31 L169.88,173.21 L166.44,169.31 Z"/><path d="M167.92,161.53 L171.35,165.43 L167.92,169.33 L164.49,165.43 Z"/><path d="M165.99,157.71 L169.43,161.61 L165.99,165.51 L162.56,161.61 Z"/><path d="M164.10,153.92 L167.53,157.82 L164.10,161.72 L160.67,157.82 Z"/><path d="M162.24,150.16 L165.67,154.06 L162.24,157.96 L158.80,154.06 Z"/><path d="M160.40,146.42 L163.83,150.32 L160.40,154.22 L156.97,150.32 Z"/><path d="M158.59,142.72 L162.02,146.62 L158.59,150.52 L155.16,146.62 Z"/><path d="M156.81,139.06 L160.24,142.96 L156.81,146.86 L153.38,142.96 Z"/><path d="M155.06,135.41 L158.49,139.31 L155.06,143.21 L151.63,139.31 Z"/><path d="M153.33,131.93 L156.76,135.83 L153.33,139.73 L149.90,135.83 Z"/><path d="M151.63,128.74 L155.06,132.64 L151.63,136.54 L148.19,132.64 Z"/><path d="M149.95,125.77 L153.38,129.67 L149.95,133.57 L146.51,129.67 Z"/><path d="M148.29,122.88 L151.72,126.78 L148.29,130.68 L144.86,126.78 Z"/><path d="M146.66,119.91 L150.09,123.81 L146.66,127.71 L143.23,123.81 Z"/><path d="M145.05,116.81 L148.48,120.71 L145.05,124.61 L141.62,120.71 Z"/><path d="M143.46,113.77 L146.89,117.67 L143.46,121.57 L140.03,117.67 Z"/><path d="M141.89,111.01 L145.32,114.91 L141.89,118.81 L138.46,114.91 Z"/><path d="M140.34,108.54 L143.77,112.44 L140.34,116.34 L136.91,112.44 Z"/><path d="M138.82,106.30 L142.25,110.20 L138.82,114.10 L135.38,110.20 Z"/><path d="M137.31,104.50 L140.74,108.40 L137.31,112.30 L133.87,108.40 Z"/><path d="M135.82,103.15 L139.25,107.05 L135.82,110.95 L132.39,107.05 Z"/><path d="M134.35,101.98 L137.78,105.88 L134.35,109.78 L130.91,105.88 Z"/><path d="M132.89,100.79 L136.33,104.69 L132.89,108.59 L129.46,104.69 Z"/><path d="M131.46,99.65 L134.89,103.55 L131.46,107.45 L128.03,103.55 Z"/><path d="M130.04,98.54 L133.47,102.44 L130.04,106.34 L126.61,102.44 Z"/><path d="M128.64,97.52 L132.07,101.42 L128.64,105.32 L125.21,101.42 Z"/><path d="M127.26,96.93 L130.69,100.83 L127.26,104.73 L123.82,100.83 Z"/><path d="M125.89,96.56 L129.32,100.46 L125.89,104.36 L122.46,100.46 Z"/><path d="M124.53,96.33 L127.97,100.23 L124.53,104.13 L121.10,100.23 Z"/><path d="M123.20,96.16 L126.63,100.06 L123.20,103.96 L119.76,100.06 Z"/><path d="M121.87,96.10 L125.31,100.00 L121.87,103.90 L118.44,100.00 Z"/><path d="M120.57,96.29 L124.00,100.19 L120.57,104.09 L117.13,100.19 Z"/><path d="M119.27,96.65 L122.70,100.55 L119.27,104.45 L115.84,100.55 Z"/><path d="M117.99,97.07 L121.42,100.97 L117.99,104.87 L114.56,100.97 Z"/><path d="M116.73,97.63 L120.16,101.53 L116.73,105.43 L113.29,101.53 Z"/><path d="M115.47,98.32 L118.90,102.22 L115.47,106.12 L112.04,102.22 Z"/><path d="M114.23,99.11 L117.66,103.01 L114.23,106.91 L110.80,103.01 Z"/><path d="M113.01,100.07 L116.44,103.97 L113.01,107.87 L109.57,103.97 Z"/><path d="M111.79,101.18 L115.22,105.08 L111.79,108.98 L108.36,105.08 Z"/><path d="M110.59,102.41 L114.02,106.31 L110.59,110.21 L107.16,106.31 Z"/><path d="M109.40,103.87 L112.83,107.77 L109.40,111.67 L105.97,107.77 Z"/><path d="M108.22,105.55 L111.65,109.45 L108.22,113.35 L104.79,109.45 Z"/><path d="M107.06,107.25 L110.49,111.15 L107.06,115.05 L103.62,111.15 Z"/><path d="M105.90,108.96 L109.33,112.86 L105.90,116.76 L102.47,112.86 Z"/><path d="M104.76,110.71 L108.19,114.61 L104.76,118.51 L101.32,114.61 Z"/><path d="M103.62,112.50 L107.06,116.40 L103.62,120.30 L100.19,116.40 Z"/><path d="M102.50,114.37 L105.93,118.27 L102.50,122.17 L99.07,118.27 Z"/><path d="M101.39,116.25 L104.82,120.15 L101.39,124.05 L97.96,120.15 Z"/><path d="M100.29,118.10 L103.72,122.00 L100.29,125.90 L96.86,122.00 Z"/><path d="M99.20,119.94 L102.63,123.84 L99.20,127.74 L95.77,123.84 Z"/><path d="M98.12,121.72 L101.55,125.62 L98.12,129.52 L94.68,125.62 Z"/><path d="M97.04,123.36 L100.48,127.26 L97.04,131.16 L93.61,127.26 Z"/><path d="M95.98,124.93 L99.42,128.83 L95.98,132.73 L92.55,128.83 Z"/><path d="M94.93,126.51 L98.36,130.41 L94.93,134.31 L91.50,130.41 Z"/><path d="M93.89,128.22 L97.32,132.12 L93.89,136.02 L90.46,132.12 Z"/><path d="M92.85,129.86 L96.29,133.76 L92.85,137.66 L89.42,133.76 Z"/><path d="M91.83,131.09 L95.26,134.99 L91.83,138.89 L88.40,134.99 Z"/><path d="M90.81,131.97 L94.24,135.87 L90.81,139.77 L87.38,135.87 Z"/><path d="M89.80,132.75 L93.24,136.65 L89.80,140.55 L86.37,136.65 Z"/><path d="M88.81,133.59 L92.24,137.49 L88.81,141.39 L85.37,137.49 Z"/><path d="M87.82,134.66 L91.25,138.56 L87.82,142.46 L84.38,138.56 Z"/><path d="M86.83,135.78 L90.26,139.68 L86.83,143.58 L83.40,139.68 Z"/><path d="M85.86,136.70 L89.29,140.60 L85.86,144.50 L82.43,140.60 Z"/><path d="M84.89,137.43 L88.32,141.33 L84.89,145.23 L81.46,141.33 Z"/><path d="M83.93,138.07 L87.37,141.97 L83.93,145.87 L80.50,141.97 Z"/><path d="M82.98,138.68 L86.41,142.58 L82.98,146.48 L79.55,142.58 Z"/><path d="M82.04,139.37 L85.47,143.27 L82.04,147.17 L78.61,143.27 Z"/><path d="M81.10,139.84 L84.54,143.74 L81.10,147.64 L77.67,143.74 Z"/><path d="M80.17,139.85 L83.61,143.75 L80.17,147.65 L76.74,143.75 Z"/></g></g><g stroke="#333" stroke-width="1" fill="none"><line x1="51.4" x2="51.4" y1="15.5" y2="307.0"/><line x1="50.9" x2="683.3" y1="306.5" y2="306.5"/></g><g stroke="#333" stroke-width="0.8"><line x1="51.4" x2="54.199999999999996" y1="293.45" y2="293.45"/><line x1="51.4" x2="54.199999999999996" y1="258.74" y2="258.74"/><line x1="51.4" x2="54.199999999999996" y1="224.03" y2="224.03"/><line x1="51.4" x2="54.199999999999996" y1="189.32" y2="189.32"/><line x1="51.4" x2="54.199999999999996" y1="154.61" y2="154.61"/><line x1="51.4" x2="54.199999999999996" y1="119.90" y2="119.90"/><line x1="51.4" x2="54.199999999999996" y1="85.19" y2="85.19"/><line x1="51.4" x2="54.199999999999996" y1="50.48" y2="50.48"/><line x1="109.40" x2="109.40" y1="306.5" y2="303.9"/><line x1="382.00" x2="382.00" y1="306.5" y2="303.9"/><line x1="654.60" x2="654.60" y1="306.5" y2="303.9"/><line x1="67.17" x2="67.17" y1="306.5" y2="304.9"/><line x1="82.98" x2="82.98" y1="306.5" y2="304.9"/><line x1="96.93" x2="96.93" y1="306.5" y2="304.9"/><line x1="191.46" x2="191.46" y1="306.5" y2="304.9"/><line x1="239.46" x2="239.46" y1="306.5" y2="304.9"/><line x1="273.52" x2="273.52" y1="306.5" y2="304.9"/><line x1="299.94" x2="299.94" y1="306.5" y2="304.9"/><line x1="321.52" x2="321.52" y1="306.5" y2="304.9"/><line x1="339.77" x2="339.77" y1="306.5" y2="304.9"/><line x1="355.58" x2="355.58" y1="306.5" y2="304.9"/><line x1="369.53" x2="369.53" y1="306.5" y2="304.9"/><line x1="464.06" x2="464.06" y1="306.5" y2="304.9"/><line x1="512.06" x2="512.06" y1="306.5" y2="304.9"/><line x1="546.12" x2="546.12" y1="306.5" y2="304.9"/><line x1="572.54" x2="572.54" y1="306.5" y2="304.9"/><line x1="594.12" x2="594.12" y1="306.5" y2="304.9"/><line x1="612.37" x2="612.37" y1="306.5" y2="304.9"/><line x1="628.18" x2="628.18" y1="306.5" y2="304.9"/><line x1="642.13" x2="642.13" y1="306.5" y2="304.9"/></g><g font-family="Liberation Sans, sans-serif" fill="#3a3a3a"><text x="47.2" y="296.95" text-anchor="end" font-size="9.9" textLength="32.5" lengthAdjust="spacingAndGlyphs">0.0000</text><text x="47.2" y="262.24" text-anchor="end" font-size="9.9" textLength="32.5" lengthAdjust="spacingAndGlyphs">0.0025</text><text x="47.2" y="227.53" text-anchor="end" font-size="9.9" textLength="32.5" lengthAdjust="spacingAndGlyphs">0.0050</text><text x="47.2" y="192.82" text-anchor="end" font-size="9.9" textLength="32.5" lengthAdjust="spacingAndGlyphs">0.0075</text><text x="47.2" y="158.11" text-anchor="end" font-size="9.9" textLength="32.5" lengthAdjust="spacingAndGlyphs">0.0100</text><text x="47.2" y="123.40" text-anchor="end" font-size="9.9" textLength="32.5" lengthAdjust="spacingAndGlyphs">0.0125</text><text x="47.2" y="88.69" text-anchor="end" font-size="9.9" textLength="32.5" lengthAdjust="spacingAndGlyphs">0.0150</text><text x="47.2" y="53.98" text-anchor="end" font-size="9.9" textLength="32.5" lengthAdjust="spacingAndGlyphs">0.0175</text><text x="98.70" y="317.6" font-size="10.8" textLength="12.1" lengthAdjust="spacingAndGlyphs">10</text><text x="111.20" y="313.6" font-size="7.8" textLength="8.7" lengthAdjust="spacingAndGlyphs">−2</text><text x="371.30" y="317.6" font-size="10.8" textLength="12.1" lengthAdjust="spacingAndGlyphs">10</text><text x="383.80" y="313.6" font-size="7.8" textLength="8.7" lengthAdjust="spacingAndGlyphs">−1</text><text x="646.35" y="317.6" font-size="10.8" textLength="12.1" lengthAdjust="spacingAndGlyphs">10</text><text x="658.85" y="313.6" font-size="7.8" textLength="3.8" lengthAdjust="spacingAndGlyphs">0</text></g><text x="367.6" y="330.1" text-anchor="middle" font-family="Liberation Sans, sans-serif" font-size="10.3" fill="#3a3a3a" textLength="72.8" lengthAdjust="spacingAndGlyphs">Frequency (Hz)</text><text transform="translate(8.9,160.6) rotate(-90)" text-anchor="middle" font-family="Liberation Sans, sans-serif" font-size="10.3" fill="#3a3a3a" textLength="140.3" lengthAdjust="spacingAndGlyphs">Normalized Energy (Unitless)</text><text x="367.9" y="10.9" text-anchor="middle" font-family="Liberation Sans, sans-serif" font-size="13.9" fill="#3a3a3a" textLength="374.4" lengthAdjust="spacingAndGlyphs">Normalized Energy Distribution Across Wave Components</text><rect x="578.7" y="20.3" width="100.8" height="61.8" rx="2" ry="2" fill="#fff" fill-opacity="0.8" stroke="#d0d0d0" stroke-width="0.8"/><line x1="581.0" x2="598.5" y1="26.5" y2="26.5" stroke="#0000ff" stroke-width="1.4"/><g fill="#0000ff"><circle cx="589.80" cy="26.50" r="2.20"/></g><line x1="581.5" x2="596.3" y1="38.6" y2="38.6" stroke="#ffa500" stroke-width="1.3"/><g fill="#ffa500"><rect x="587.50" y="36.30" width="4.60" height="4.60"/></g><line x1="581.0" x2="598.5" y1="50.8" y2="50.8" stroke="#008000" stroke-width="1.5" stroke-dasharray="10.5,3,1.6,3"/><g fill="#008000"><path d="M589.80,48.50 L592.10,52.64 L587.50,52.64 Z"/></g><line x1="581.0" x2="598.5" y1="62.9" y2="62.9" stroke="#ff0000" stroke-width="1.5" stroke-dasharray="1.6,2.9"/><line x1="581.0" x2="598.5" y1="75.0" y2="75.0" stroke="#800080" stroke-width="2.2"/><g fill="#800080"><path d="M589.80,71.80 L592.62,75.00 L589.80,78.20 L586.98,75.00 Z"/></g><text x="604.6" y="29.80" font-family="Liberation Sans, sans-serif" font-size="8.5" fill="#3a3a3a" textLength="44.2" lengthAdjust="spacingAndGlyphs">Raw Signal</text><text x="604.6" y="41.90" font-family="Liberation Sans, sans-serif" font-size="8.5" fill="#3a3a3a" textLength="60.3" lengthAdjust="spacingAndGlyphs">Primary Waves</text><text x="604.6" y="53.95" font-family="Liberation Sans, sans-serif" font-size="8.5" fill="#3a3a3a" textLength="71.8" lengthAdjust="spacingAndGlyphs">Secondary Waves</text><text x="604.6" y="66.00" font-family="Liberation Sans, sans-serif" font-size="8.5" fill="#3a3a3a" textLength="49.6" lengthAdjust="spacingAndGlyphs">Wind Waves</text><text x="604.6" y="78.05" font-family="Liberation Sans, sans-serif" font-size="8.5" fill="#3a3a3a" textLength="56.0" lengthAdjust="spacingAndGlyphs">Seiche Waves</text></svg></body></html>
